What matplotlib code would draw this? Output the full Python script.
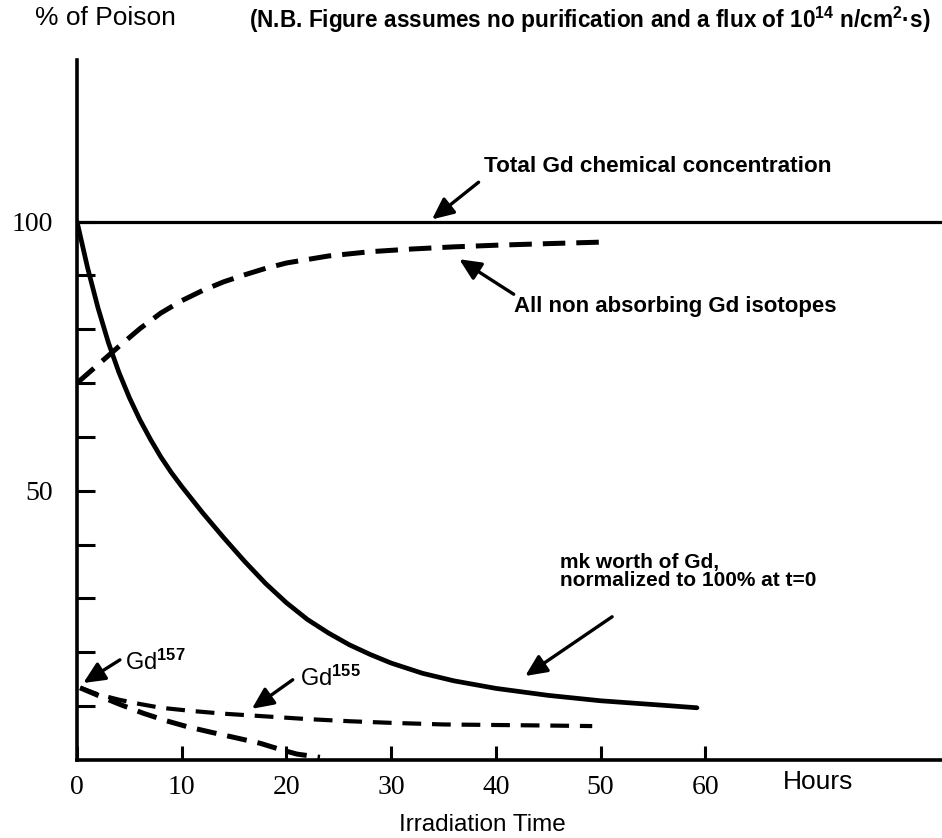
import matplotlib
matplotlib.use("Agg")
import matplotlib.pyplot as plt

plt.rcParams['font.family'] = ['Liberation Sans', 'DejaVu Sans']
plt.rcParams['mathtext.fontset'] = 'custom'
plt.rcParams['mathtext.rm'] = 'Liberation Sans:bold'
plt.rcParams['mathtext.it'] = 'Liberation Sans:bold'
plt.rcParams['mathtext.bf'] = 'Liberation Sans:bold'

# data (hours, % of poison)
total_t = [0, 82.6]
total_v = [100, 100]

mk_t = [0, 1, 2, 3, 4, 5, 6, 7, 8, 9, 10, 12, 14, 16, 18, 20, 22, 24, 26, 28, 30,
        33, 36, 40, 45, 50, 55, 59.2]
mk_v = [100, 91.5, 84, 77.5, 72, 67.3, 63.2, 59.6, 56.3, 53.4, 50.8, 45.9, 41.3, 36.9,
        32.8, 29.2, 26.1, 23.6, 21.4, 19.6, 18.0, 16.1, 14.7, 13.3, 12.0, 11.0, 10.3, 9.7]

nonabs_t = [0, 2, 4, 6, 8, 10, 12, 14, 16, 18, 20, 24, 28, 32, 36, 40, 45, 50.5]
nonabs_v = [70, 73.4, 76.8, 80.1, 83.0, 85.3, 87.2, 88.8, 90.1, 91.3, 92.3, 93.6, 94.4,
            94.9, 95.3, 95.6, 95.9, 96.2]

gd155_t = [0.3, 2, 4, 6, 8, 11, 14, 18, 22, 26, 30, 35, 40, 45, 49.2]
gd155_v = [13.4, 12.2, 11.2, 10.4, 9.7, 9.1, 8.6, 8.1, 7.6, 7.2, 6.9, 6.6, 6.5, 6.4, 6.3]

gd157_t = [0.3, 2, 4, 6.3, 8.5, 10.5, 12.7, 15, 17.5, 19.5, 21, 23.2]
gd157_v = [13.4, 12.0, 10.4, 8.7, 7.3, 6.2, 5.2, 4.2, 3.1, 1.9, 1.1, 0.5]

x_ticks = [0, 10, 20, 30, 40, 50, 60]
x_labels = ['0', '10', '20', '30', '40', '50', '60']
y_ticks = [10, 20, 30, 40, 50, 60, 70, 80, 90, 100]
y_labels = ['', '', '', '', '50', '', '', '', '', '100']

fig = plt.figure(figsize=(9.42, 8.38), dpi=100)
ax = fig.add_axes([77/942, 1-760/838, 865/942, 700/838])
ax.set_xlim(0, 82.6)
ax.set_ylim(0, 130)

ax.plot(total_t, total_v, color='k', lw=2.3, solid_capstyle='butt')
ax.plot(mk_t, mk_v, color='k', lw=3.4, solid_capstyle='round', solid_joinstyle='round')
ax.plot(nonabs_t, nonabs_v, color='k', lw=3.6, dashes=(4.5, 2.2))
ax.plot(gd155_t, gd155_v, color='k', lw=3.0, dashes=(4.5, 2.6))
ax.plot(gd157_t, gd157_v, color='k', lw=3.6, dashes=(4, 2.2))

for s in ['top', 'right']:
    ax.spines[s].set_visible(False)
for s in ['left', 'bottom']:
    ax.spines[s].set_linewidth(2.6)

ax.set_xticks(x_ticks)
ax.set_xticklabels(x_labels, family='Liberation Serif', fontsize=20)
ax.set_yticks(y_ticks)
ax.set_yticklabels(y_labels, family='Liberation Serif', fontsize=20)
ax.tick_params(axis='x', direction='in', length=10, width=2.2, pad=11)
ax.tick_params(axis='y', direction='in', length=13, width=2.2, pad=17)

ax.text(70.8, -4.1, 'Hours', fontsize=19, ha='center', va='center', clip_on=False)
fig.text(482/942, 1-825/838, 'Irradiation Time', fontsize=17.5, ha='center', va='center')
fig.text(105/942, 1-18/838, '% of Poison', fontsize=19, ha='center', va='center')
fig.text(590/942, 1-20/838,
         '(N.B. Figure assumes no purification and a flux of 10$^{14}$ n/cm$^{2}$·s)',
         fontsize=16.3, fontweight='bold', ha='center', va='center')

arrow = dict(arrowstyle='-|>,head_length=0.65,head_width=0.3', lw=2.4, color='k',
             shrinkA=0, shrinkB=0, mutation_scale=20)

ax.text(38.9, 110.3, 'Total Gd chemical concentration', fontsize=16.2,
        fontweight='bold', va='center')
ax.annotate('', xy=(33.9, 100.4), xytext=(38.35, 107.3), arrowprops=arrow)

ax.text(41.7, 84.2, 'All non absorbing Gd isotopes', fontsize=16,
        fontweight='bold', va='center')
ax.annotate('', xy=(36.5, 93.0), xytext=(41.7, 86.5), arrowprops=arrow)

ax.text(46.1, 35.0, 'mk worth of Gd,\nnormalized to 100% at t=0', fontsize=15,
        fontweight='bold', va='center', linespacing=0.95)
ax.annotate('', xy=(42.8, 15.6), xytext=(51.1, 26.6), arrowprops=arrow)

ax.text(4.6, 18.2, 'Gd$^{157}$', fontsize=17, va='center')
ax.annotate('', xy=(0.6, 14.3), xytext=(4.1, 18.6), arrowprops=arrow)

ax.text(21.3, 15.2, 'Gd$^{155}$', fontsize=17, va='center')
ax.annotate('', xy=(16.7, 9.5), xytext=(20.6, 14.9), arrowprops=arrow)

fig.savefig('out.png', dpi=100)
